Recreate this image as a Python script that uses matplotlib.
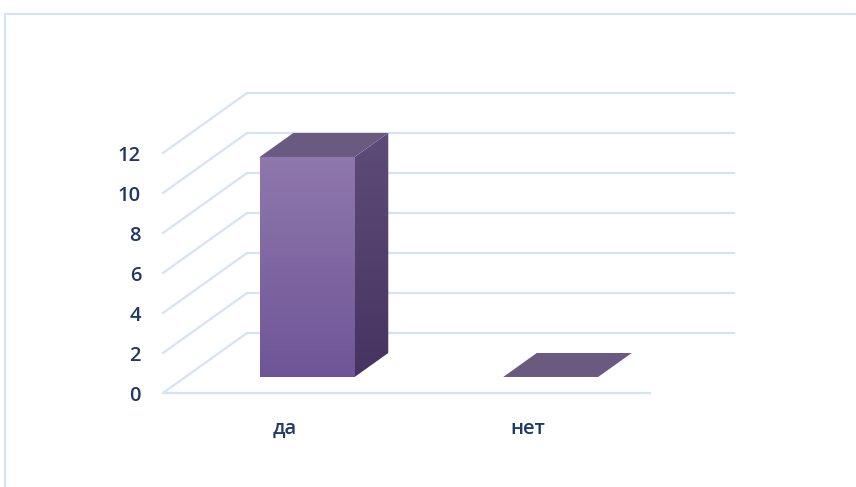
import numpy as np
import matplotlib
matplotlib.use("Agg")
import matplotlib.pyplot as plt
from matplotlib.patches import Polygon
from matplotlib.lines import Line2D

# data
categories = ["да", "нет"]
values = [11, 0]
ticks = [0, 2, 4, 6, 8, 10, 12]

# style
grid_col = "#d6e3f4"
text_col = "#1f3a66"
front_top, front_bot = "#8f78ad", "#6f5597"
side_top, side_bot = "#5e4c78", "#47335f"
top_col = "#6b5a80"

# oblique projection: depth d in [0,1] shifts by (DX, DY) in data units
DX, DY = 0.345, 3.0
D0, D1 = 0.267, 0.667
BW = 0.39


def proj(x, y, d):
    return x + DX * d, y + DY * d


def gradient_poly(ax, pts, c_top, c_bot):
    poly = Polygon(pts, closed=True, facecolor="none", edgecolor="none")
    ax.add_patch(poly)
    xs = [p[0] for p in pts]
    ys = [p[1] for p in pts]
    cmap = matplotlib.colors.LinearSegmentedColormap.from_list("g", [c_bot, c_top])
    grad = np.linspace(0, 1, 256).reshape(-1, 1)
    im = ax.imshow(grad, cmap=cmap, origin="lower", aspect="auto",
                   extent=[min(xs), max(xs), min(ys), max(ys)], zorder=3)
    im.set_clip_path(poly)


fig = plt.figure(figsize=(8.56, 4.87), dpi=100)
ax = fig.add_axes([0, 0, 1, 1])
px = 2 / 487.0
ax.set_xlim(-163 * px, 2 + (856 - 650) * px)
ax.set_ylim(-(487 - 393) / 20.0, 393 / 20.0)
ax.axis("off")

# gridlines: side wall diagonals + back wall
for t in ticks:
    x0, y0 = proj(0, t, 0)
    x1, y1 = proj(0, t, 1)
    x2, y2 = proj(len(categories), t, 1)
    ax.plot([x0, x1, x2], [y0, y1, y2], color=grid_col, lw=1.6, zorder=1)
    ax.text(-0.09, t - 0.15, str(t), ha="right", va="center", color=text_col,
            fontsize=14.5, fontfamily="Open Sans", fontweight="semibold")
# floor front edge
ax.plot([0, len(categories)], [0, 0], color=grid_col, lw=1.6, zorder=1)

for i, (cat, v) in enumerate(zip(categories, values)):
    c = i + 0.5
    xl, xr = c - BW / 2, c + BW / 2
    if v > 0:
        front = [proj(xl, 0, D0), proj(xr, 0, D0), proj(xr, v, D0), proj(xl, v, D0)]
        side = [proj(xr, 0, D0), proj(xr, 0, D1), proj(xr, v, D1), proj(xr, v, D0)]
        gradient_poly(ax, front, front_top, front_bot)
        gradient_poly(ax, side, side_top, side_bot)
    top = [proj(xl, v, D0), proj(xr, v, D0), proj(xr, v, D1), proj(xl, v, D1)]
    ax.add_patch(Polygon(top, closed=True, facecolor=top_col, edgecolor="none", zorder=4))
    ax.text(c, -1.8, cat, ha="center", va="center", color=text_col,
            fontsize=14.5, fontfamily="Open Sans", fontweight="semibold")

# chart border
fig.add_artist(Line2D([5 / 856, 5 / 856], [0, 1 - 14 / 487], color=grid_col, lw=1.5))
fig.add_artist(Line2D([5 / 856, 1], [1 - 14 / 487, 1 - 14 / 487], color=grid_col, lw=1.5))

fig.savefig("out.png", dpi=100)
